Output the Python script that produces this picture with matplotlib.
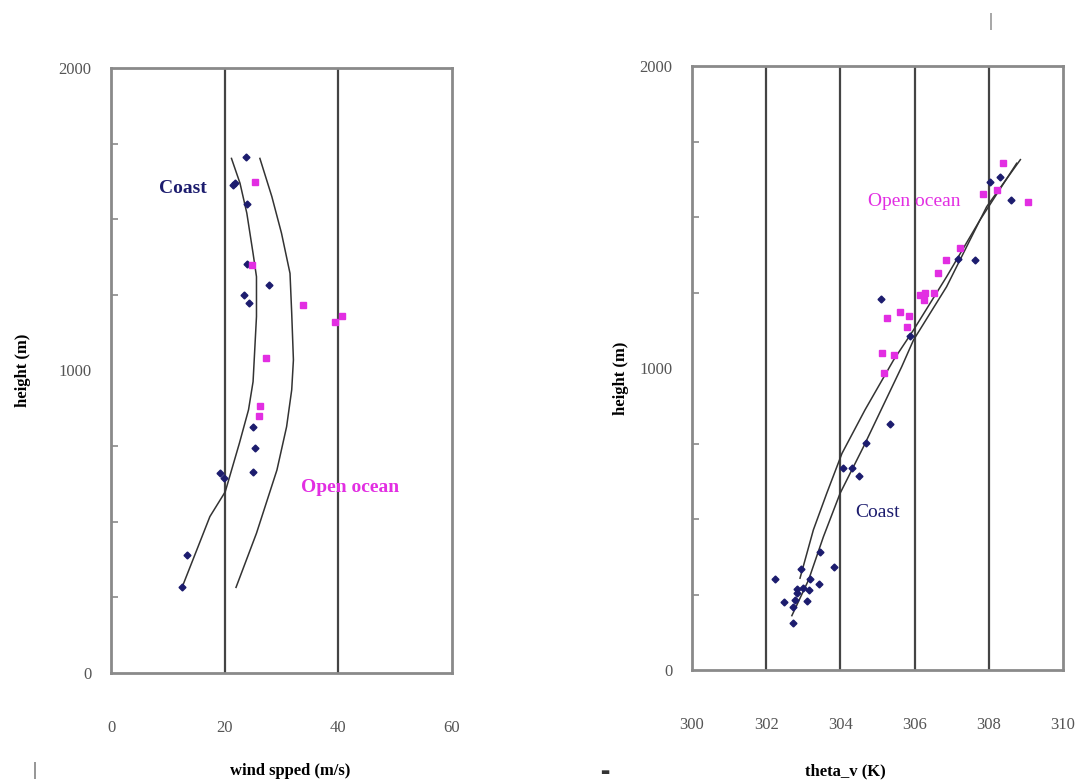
import numpy as np
import matplotlib
matplotlib.use("Agg")
import matplotlib.pyplot as plt
from matplotlib.ticker import MultipleLocator

plt.rcParams['font.family'] = ['Liberation Serif', 'DejaVu Serif']

NAVY = '#1c1c6e'
MAGENTA = '#e22ee2'

# --- wind speed panel (left) ---
wind_coast_x = [23.7, 21.8, 21.5, 23.9, 23.9, 27.8, 23.4, 24.3, 25.0, 25.3, 25.0, 19.2, 19.8, 13.4, 12.5]
wind_coast_h = [1705, 1619, 1613, 1550, 1352, 1283, 1250, 1222, 814, 745, 666, 662, 644, 390, 283]
wind_ocean_x = [25.3, 24.8, 33.7, 39.5, 40.6, 27.2, 26.2, 26.0]
wind_ocean_h = [1622, 1349, 1217, 1159, 1180, 1042, 884, 848]
# fitted profiles
wind_fit_coast_x = [12.5, 15.1, 17.4, 20.1, 22.6, 24.2, 25.0, 25.6, 25.6, 25.0, 23.9, 22.7, 21.2]
wind_fit_coast_h = [283, 407, 517, 599, 760, 870, 963, 1178, 1310, 1387, 1520, 1619, 1701]
wind_fit_ocean_x = [22.0, 25.6, 29.2, 30.9, 31.8, 32.1, 31.8, 31.5, 30.0, 28.3, 26.2]
wind_fit_ocean_h = [283, 462, 671, 814, 936, 1035, 1189, 1321, 1454, 1575, 1701]

# --- theta_v panel (right) ---
th_coast_x = [308.03, 308.30, 308.60, 307.18, 307.63, 305.09, 305.88, 305.34, 304.69, 304.08,
              304.30, 304.50, 303.45, 303.83, 302.93, 302.24, 303.18, 303.43, 302.84, 303.00,
              303.14, 302.82, 302.49, 302.78, 303.09, 302.73, 302.71]
th_coast_h = [1617, 1631, 1556, 1361, 1357, 1227, 1106, 814, 751, 668,
              668, 643, 392, 340, 333, 300, 301, 285, 269, 271,
              265, 254, 226, 232, 229, 210, 155]
th_ocean_x = [308.37, 308.21, 307.85, 309.05, 307.21, 306.84, 306.62, 306.15, 306.28, 306.24,
              306.51, 305.61, 305.25, 305.86, 305.79, 305.11, 305.43, 305.18]
th_ocean_h = [1680, 1589, 1575, 1549, 1396, 1357, 1313, 1242, 1247, 1225,
              1249, 1184, 1164, 1172, 1137, 1049, 1043, 984]
th_fit_a_x = [302.91, 303.27, 303.63, 304.04, 304.66, 305.43, 305.97, 306.86, 307.76, 308.75]
th_fit_a_h = [304, 464, 585, 717, 861, 1026, 1126, 1302, 1490, 1678]
th_fit_b_x = [302.69, 303.14, 303.54, 303.99, 304.62, 305.65, 305.97, 306.86, 307.94, 308.85]
th_fit_b_h = [180, 298, 441, 585, 739, 1004, 1093, 1269, 1534, 1690]

fig = plt.figure(figsize=(10.82, 7.83), dpi=100)
ax1 = fig.add_axes([0.1026, 0.1405, 0.3151, 0.7727])
ax2 = fig.add_axes([0.6396, 0.1443, 0.3429, 0.7714])


def style(ax, xlim, xticks, grid):
    ax.set_xlim(*xlim)
    ax.set_ylim(0, 2000)
    ax.set_xticks(xticks)
    ax.set_yticks([0, 1000, 2000])
    ax.yaxis.set_minor_locator(MultipleLocator(250))
    for g in grid:
        ax.axvline(g, color='#444444', lw=1.6, zorder=1)
    for sp in ax.spines.values():
        sp.set_color('#8a8a8a')
        sp.set_linewidth(2)
    ax.tick_params(axis='x', length=0, pad=34, labelsize=12, colors='#555555')
    ax.tick_params(axis='y', which='major', length=0, pad=14, labelsize=12, colors='#555555')
    ax.tick_params(axis='y', which='minor', direction='in', length=5, width=1.2, color='#8a8a8a')


style(ax1, (0, 60), [0, 20, 40, 60], [20, 40])
ax1.plot(wind_fit_coast_x, wind_fit_coast_h, color='#333333', lw=1.1, zorder=2)
ax1.plot(wind_fit_ocean_x, wind_fit_ocean_h, color='#333333', lw=1.1, zorder=2)
ax1.plot(wind_coast_x, wind_coast_h, 'D', color=NAVY, ms=3.5, zorder=3)
ax1.plot(wind_ocean_x, wind_ocean_h, 's', color=MAGENTA, ms=4, zorder=3)
ax1.text(12.7, 1603, 'Coast', color=NAVY, fontsize=14, fontweight='bold', ha='center', va='center')
ax1.text(42.1, 612, 'Open ocean', color=MAGENTA, fontsize=14, fontweight='bold', ha='center', va='center')
ax1.set_ylabel('height (m)', fontsize=12, fontweight='bold')
ax1.yaxis.set_label_coords(-0.235, 0.5)
ax1.set_xlabel('wind spped (m/s)', fontsize=12, fontweight='bold')
ax1.xaxis.set_label_coords(0.525, -0.149)

style(ax2, (300, 310), [300, 302, 304, 306, 308, 310], [302, 304, 306, 308])
ax2.plot(th_fit_a_x, th_fit_a_h, color='#333333', lw=1.1, zorder=2)
ax2.plot(th_fit_b_x, th_fit_b_h, color='#333333', lw=1.1, zorder=2)
ax2.plot(th_coast_x, th_coast_h, 'D', color=NAVY, ms=3.5, zorder=3)
ax2.plot(th_ocean_x, th_ocean_h, 's', color=MAGENTA, ms=4, zorder=3)
ax2.text(306.0, 1550, 'Open ocean', color=MAGENTA, fontsize=14, ha='center', va='center')
ax2.text(305.0, 520, 'Coast', color=NAVY, fontsize=14, ha='center', va='center')
ax2.set_ylabel('height (m)', fontsize=12, fontweight='bold')
ax2.yaxis.set_label_coords(-0.170, 0.483)
ax2.set_xlabel('theta_v (K)', fontsize=12, fontweight='bold')
ax2.xaxis.set_label_coords(0.412, -0.154)

# stray scan marks
fig.text(0.915, 0.972, '|', fontsize=14, color='#555555', ha='center', va='center')
fig.text(0.032, 0.016, '|', fontsize=14, color='#333333', ha='center', va='center')
fig.text(0.559, 0.014, '\u25ac', fontsize=7, color='#333333', ha='center', va='center',
         family='DejaVu Sans')

fig.savefig('out.png', dpi=100)
